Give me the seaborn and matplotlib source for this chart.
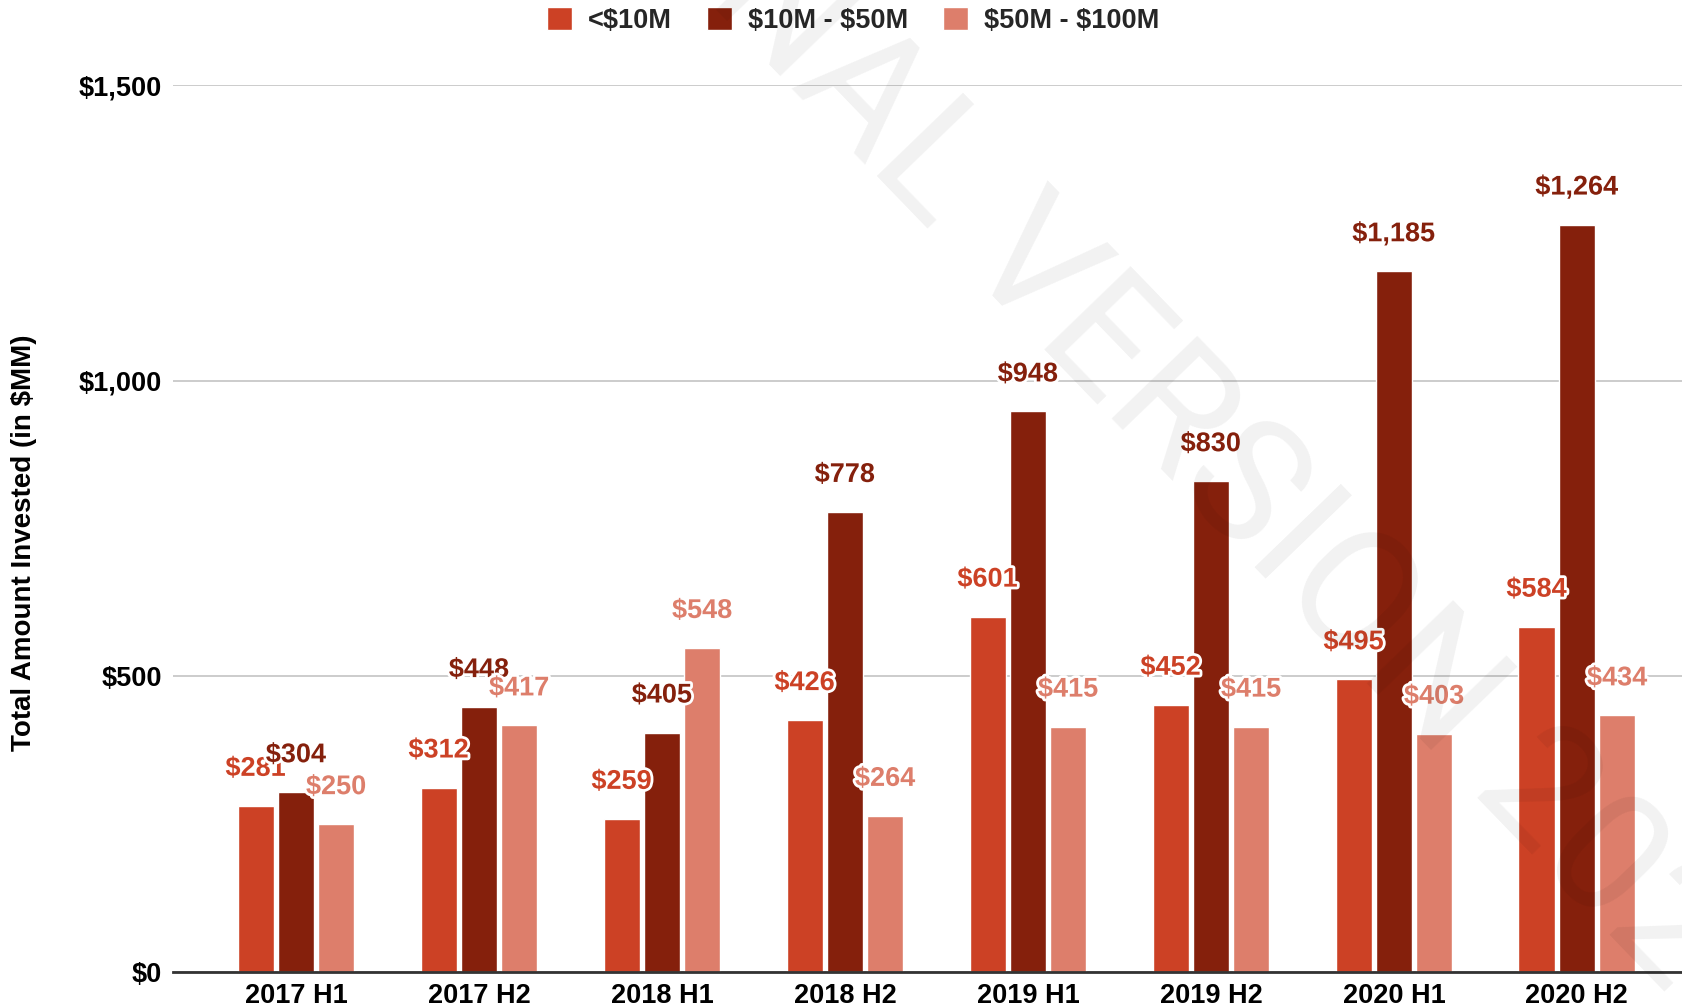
import matplotlib
matplotlib.use("Agg")
import matplotlib.pyplot as plt
import seaborn as sns
import pandas as pd
from matplotlib import patheffects as pe
from matplotlib.ticker import FuncFormatter

# ---------------- data ----------------
categories = ["2017 H1", "2017 H2", "2018 H1", "2018 H2",
              "2019 H1", "2019 H2", "2020 H1", "2020 H2"]
series_names = ["<$10M", "$10M - $50M", "$50M - $100M"]
under_10m = [281, 312, 259, 426, 601, 452, 495, 584]
from_10m_to_50m = [304, 448, 405, 778, 948, 830, 1185, 1264]
from_50m_to_100m = [250, 417, 548, 264, 415, 415, 403, 434]
y_ticks = [0, 500, 1000, 1500]
colors = ["#CC4125", "#85200C", "#DD7E6B"]

series_values = [under_10m, from_10m_to_50m, from_50m_to_100m]
df = pd.DataFrame({
    "period": categories * 3,
    "bucket": [s for s in series_names for _ in categories],
    "amount": [v for vals in series_values for v in vals],
})

# ---------------- style ----------------
sns.set_style("white")
plt.rcParams["font.family"] = ["Liberation Sans", "DejaVu Sans"]
plt.rcParams["text.parse_math"] = False

W, H = 1683, 1007
fig = plt.figure(figsize=(W / 100, H / 100), dpi=100)
ax = fig.add_axes([173 / W, 1 - 972 / H, 1 - 173 / W, (972 - 85) / H])

sns.barplot(data=df, x="period", y="amount", hue="bucket",
            order=categories, hue_order=series_names, palette=colors,
            width=0.66, gap=0.1, saturation=1, errorbar=None,
            ax=ax, zorder=2)

handles, labels = ax.get_legend_handles_labels()
if ax.get_legend() is not None:
    ax.get_legend().remove()

ax.set_xlim(-0.672, 7.58)
ax.set_ylim(0, 1500)
ax.set_yticks(y_ticks)
ax.yaxis.set_major_formatter(FuncFormatter(lambda v, _: f"${v:,.0f}"))
ax.set_xlabel("")
ax.set_ylabel("")

ax.yaxis.grid(True, color="#cccccc", linewidth=1.4, zorder=0)
ax.xaxis.grid(False)
ax.set_axisbelow(True)
for side in ["top", "right", "left"]:
    ax.spines[side].set_visible(False)
ax.spines["bottom"].set_color("#333333")
ax.spines["bottom"].set_linewidth(2)
ax.spines["bottom"].set_zorder(3)

fs = 19.5
ax.tick_params(axis="x", length=0, pad=8, labelsize=fs, labelcolor="black")
ax.tick_params(axis="y", length=0, pad=8, labelsize=fs, labelcolor="black")
for lab in ax.get_xticklabels() + ax.get_yticklabels():
    lab.set_fontweight("bold")

# data labels
for cont, col in zip(ax.containers, colors):
    for bar in cont:
        h = bar.get_height()
        ax.annotate(f"${h:,.0f}",
                    xy=(bar.get_x() + bar.get_width() / 2, h),
                    xytext=(0, 21.6), textcoords="offset points",
                    ha="center", va="baseline", fontsize=fs,
                    fontweight="bold", color=col, zorder=5,
                    annotation_clip=False,
                    path_effects=[pe.withStroke(linewidth=4, foreground="white")])

# y-axis title
fig.text(24 / W, 1 - 543 / H, "Total Amount Invested (in $MM)",
         rotation=90, ha="center", va="center", fontsize=20,
         fontweight="bold", color="black")

# legend
fig.legend(handles, labels, loc="center", bbox_to_anchor=(0.507, 1 - 20.5 / H),
           ncol=3, frameon=False, fontsize=fs, handlelength=0.9,
           handleheight=0.9, handletextpad=0.6, columnspacing=1.3,
           prop={"weight": "bold", "size": fs})

# watermark
fig.text(1205 / W, 1 - 449 / H, "FINAL VERSION 2020", rotation=-46,
         rotation_mode="anchor", ha="center", va="center",
         fontsize=122, family=["Roboto", "DejaVu Sans"], fontweight="normal",
         color="black", alpha=0.055, zorder=10)

fig.savefig("out.png", dpi=100)
